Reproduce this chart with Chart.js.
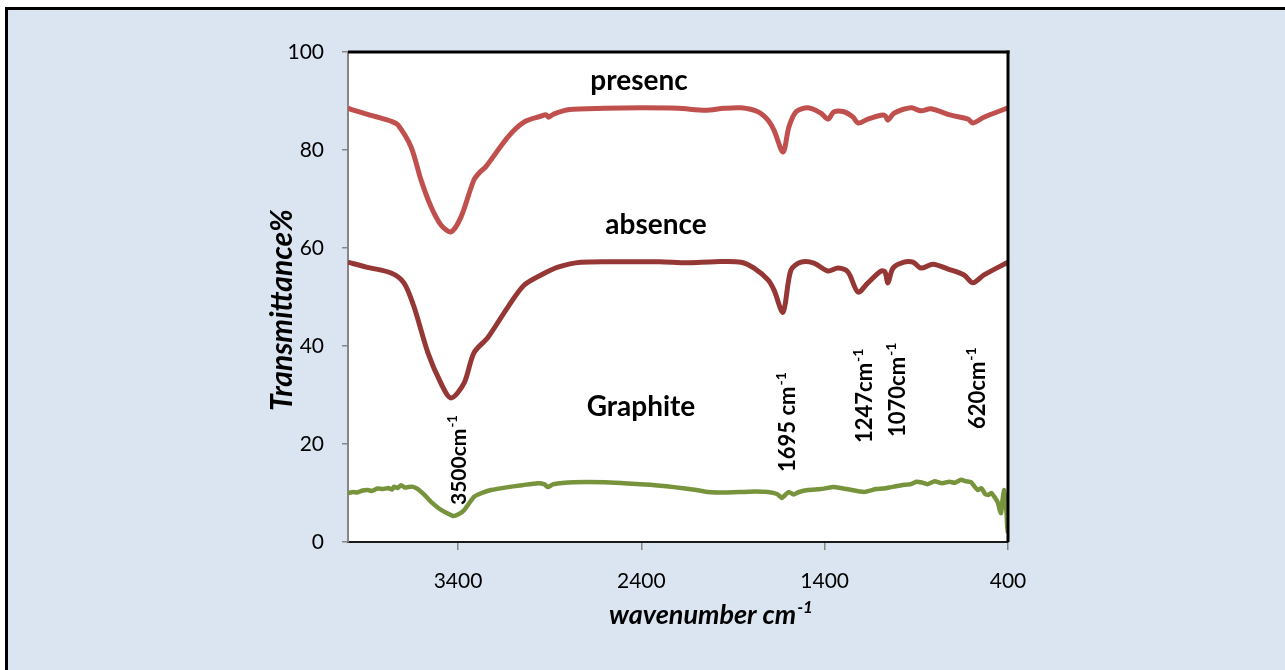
<!DOCTYPE html>
<html>
<head>
<meta charset="utf-8">
<title>FTIR spectra</title>
<script src="https://cdn.jsdelivr.net/npm/chart.js@4.4.1/dist/chart.umd.min.js"></script>
<style>
  html, body { margin: 0; padding: 0; background: #fff; }
  #wrap { width: 1285px; height: 670px; }
</style>
</head>
<body>
<div id="wrap"><canvas id="ftir" width="1285" height="670"></canvas></div>
<script>
// tick values
const xTickValues = [3400, 2400, 1400, 400];
const yTickValues = [0, 20, 40, 60, 80, 100];

// presence curve (wavenumber, transmittance %)
const presenceWn = [4000, 3985, 3858, 3760, 3727, 3656, 3602, 3547, 3493, 3438, 3384, 3313, 3280, 3250, 3127, 3040, 2947, 2920, 2905, 2880, 2800, 2600, 2400, 2200, 2050, 1950, 1856, 1764, 1709, 1676, 1627, 1595, 1556, 1491, 1420, 1382, 1349, 1295, 1245, 1218, 1164, 1093, 1070, 1055, 1022, 929, 875, 820, 711, 618, 591, 531, 400];
const presenceT = [88.6, 88.3, 86.9, 85.8, 85.1, 80.6, 73.9, 68.4, 64.7, 63.3, 66.3, 73.9, 75.5, 76.5, 82.7, 85.7, 86.9, 87.2, 86.7, 87.3, 88.2, 88.5, 88.6, 88.5, 88.1, 88.5, 88.6, 87.8, 86.1, 84.0, 79.6, 84.7, 87.8, 88.6, 87.5, 86.3, 87.8, 87.8, 86.7, 85.5, 86.3, 87.1, 87.0, 86.1, 87.5, 88.6, 88.0, 88.4, 87.1, 86.3, 85.5, 86.7, 88.6];

// absence curve
const absenceWn = [4000, 3900, 3765, 3695, 3640, 3564, 3493, 3438, 3367, 3313, 3236, 3127, 3040, 2947, 2855, 2729, 2500, 2300, 2150, 2000, 1856, 1785, 1709, 1676, 1627, 1584, 1529, 1458, 1382, 1327, 1273, 1218, 1164, 1093, 1071, 1055, 1027, 967, 918, 875, 809, 727, 640, 591, 531, 400];
const absenceT = [57.1, 56.1, 54.9, 52.9, 48.0, 38.6, 32.4, 29.4, 32.4, 38.6, 41.8, 48.0, 52.4, 54.5, 56.1, 57.1, 57.2, 57.2, 57.0, 57.2, 57.1, 55.9, 53.5, 51.4, 46.9, 55.5, 57.1, 56.9, 55.3, 55.9, 55.1, 51.0, 52.9, 55.3, 55.1, 52.9, 55.9, 57.1, 57.1, 55.9, 56.7, 55.7, 54.5, 52.9, 54.5, 57.1];

// graphite curve
const graphiteWn = [4000, 3970, 3950, 3920, 3891, 3870, 3840, 3810, 3780, 3760, 3749, 3730, 3710, 3690, 3673, 3650, 3630, 3613, 3580, 3547, 3490, 3427, 3400, 3367, 3313, 3270, 3220, 3127, 3050, 2964, 2930, 2909, 2880, 2767, 2600, 2495, 2350, 2222, 2100, 2036, 1950, 1856, 1780, 1709, 1660, 1633, 1610, 1595, 1570, 1540, 1491, 1420, 1349, 1280, 1185, 1120, 1080, 1038, 980, 930, 900, 875, 840, 800, 760, 720, 690, 656, 630, 602, 580, 564, 545, 525, 509, 490, 470, 455, 445, 438, 430, 422, 415, 408, 404, 400];
const graphiteT = [10.0, 10.2, 10.1, 10.5, 10.6, 10.4, 10.9, 10.8, 11.0, 10.7, 11.3, 11.0, 11.6, 11.1, 11.2, 11.3, 11.0, 10.6, 9.5, 8.2, 6.5, 5.3, 5.6, 6.5, 9.2, 10.0, 10.6, 11.2, 11.6, 12.0, 11.8, 11.2, 11.8, 12.2, 12.2, 12.0, 11.7, 11.2, 10.6, 10.2, 10.1, 10.2, 10.3, 10.2, 9.8, 9.0, 9.8, 10.2, 9.7, 10.2, 10.6, 10.8, 11.2, 10.8, 10.2, 10.8, 10.9, 11.2, 11.6, 11.8, 12.3, 12.2, 11.8, 12.4, 12.0, 12.3, 12.1, 12.7, 12.4, 12.2, 11.2, 10.6, 11.0, 9.8, 9.6, 10.0, 9.0, 8.0, 6.5, 5.9, 8.5, 10.6, 9.0, 6.0, 3.0, 1.8];

function toPoints(wn, t) {
    return wn.map((w, i) => ({ x: w, y: t[i] }));
}

// text helper: base text with a superscript after it
function drawSup(ctx, base, sup, x, y, size, style) {
    ctx.font = `${style} ${size}px Lato`;
    ctx.fillText(base, x, y);
    const w = ctx.measureText(base).width;
    ctx.font = `${style} ${Math.round(size * 0.62)}px Lato`;
    ctx.fillText(sup, x + w + 1, y - size * 0.42);
}

function supWidth(ctx, base, sup, size, style) {
    ctx.font = `${style} ${size}px Lato`;
    const w = ctx.measureText(base).width;
    ctx.font = `${style} ${Math.round(size * 0.62)}px Lato`;
    return w + 1 + ctx.measureText(sup).width;
}

const backgroundPlugin = {
    id: 'background',
    beforeDraw(chart) {
        const { ctx, width, height, chartArea } = chart;
        ctx.save();
        ctx.fillStyle = '#ffffff';
        ctx.fillRect(0, 0, width, height);
        ctx.fillStyle = '#dbe5f1';
        ctx.fillRect(5, 7, width, height);
        ctx.fillStyle = '#000000';
        ctx.fillRect(5, 7, width, 3);
        ctx.fillRect(5, 7, 3, height);
        ctx.fillStyle = '#ffffff';
        ctx.fillRect(chartArea.left, chartArea.top, chartArea.right - chartArea.left, chartArea.bottom - chartArea.top);
        ctx.restore();
    }
};

const labelsPlugin = {
    id: 'labels',
    afterDraw(chart) {
        const { ctx, chartArea } = chart;
        ctx.save();
        // frame top/right
        ctx.fillStyle = '#000000';
        ctx.fillRect(chartArea.left, chartArea.top - 1.5, chartArea.right - chartArea.left + 1.5, 3);
        ctx.fillRect(chartArea.right - 1.5, chartArea.top - 1.5, 3, chartArea.bottom - chartArea.top + 1.5);

        ctx.fillStyle = '#000000';
        ctx.textBaseline = 'alphabetic';

        // series names
        ctx.textAlign = 'center';
        ctx.font = 'bold 28px Lato';
        ctx.fillText('presenc', 639, 90);
        ctx.fillText('absence', 656, 234);
        ctx.fillText('Graphite', 641, 416);

        // rotated peak labels
        ctx.textAlign = 'left';
        const peaks = [
            { base: '3500cm', x: 458, y: 505, size: 21 },
            { base: '1695 cm', x: 787, y: 472, size: 22 },
            { base: '1247cm', x: 864, y: 443, size: 22 },
            { base: '1070cm', x: 897, y: 437, size: 22 },
            { base: '620cm', x: 977, y: 429, size: 22 }
        ];
        peaks.forEach(p => {
            ctx.save();
            ctx.translate(p.x + p.size * 0.36, p.y);
            ctx.rotate(-Math.PI / 2);
            drawSup(ctx, p.base, '-1', 0, 0, p.size, 'bold');
            ctx.restore();
        });

        // axis titles
        ctx.save();
        ctx.translate(282, 310);
        ctx.rotate(-Math.PI / 2);
        ctx.textAlign = 'center';
        ctx.textBaseline = 'middle';
        ctx.font = 'italic bold 30px Lato';
        ctx.fillText('Transmittance%', 0, 0);
        ctx.restore();

        ctx.textAlign = 'left';
        const tw = supWidth(ctx, 'wavenumber cm', '-1', 27, 'italic bold');
        drawSup(ctx, 'wavenumber cm', '-1', 711 - tw / 2, 624, 27, 'italic bold');
        ctx.restore();
    }
};

const lineStyle = {
    pointRadius: 0,
    borderWidth: 5,
    tension: 0.3,
    fill: false
};

new Chart(document.getElementById('ftir'), {
    type: 'line',
    data: {
        datasets: [
            { label: 'presenc', data: toPoints(presenceWn, presenceT), borderColor: '#c0504d', ...lineStyle },
            { label: 'absence', data: toPoints(absenceWn, absenceT), borderColor: '#953735', ...lineStyle },
            { label: 'Graphite', data: toPoints(graphiteWn, graphiteT), borderColor: '#77933c', ...lineStyle, borderWidth: 4.5, tension: 0.15 }
        ]
    },
    options: {
        responsive: false,
        animation: false,
        devicePixelRatio: 1,
        layout: { padding: { left: 288, right: 277, top: 52, bottom: 58 } },
        plugins: {
            legend: { display: false },
            tooltip: { enabled: false }
        },
        scales: {
            x: {
                type: 'linear',
                reverse: true,
                min: 400,
                max: 4000,
                afterBuildTicks: axis => { axis.ticks = xTickValues.map(v => ({ value: v })); },
                afterFit: axis => { axis.height = 70; },
                grid: { drawOnChartArea: false, drawTicks: true, tickLength: 8, color: '#868686', lineWidth: 1.5 },
                border: { display: true, color: '#1a1a1a', width: 2 },
                ticks: { color: '#000', font: { family: 'Lato', size: 21 }, padding: 19, maxRotation: 0, autoSkip: false, callback: v => String(v) }
            },
            y: {
                type: 'linear',
                min: 0,
                max: 100,
                afterBuildTicks: axis => { axis.ticks = yTickValues.map(v => ({ value: v })); },
                afterFit: axis => { axis.width = 60; },
                grid: { drawOnChartArea: false, drawTicks: true, tickLength: 6, color: '#868686', lineWidth: 1.5 },
                border: { display: true, color: '#868686', width: 2 },
                ticks: { color: '#000', font: { family: 'Lato', size: 21 }, padding: 18, callback: v => String(v) }
            }
        }
    },
    plugins: [backgroundPlugin, labelsPlugin]
});
</script>
</body>
</html>
